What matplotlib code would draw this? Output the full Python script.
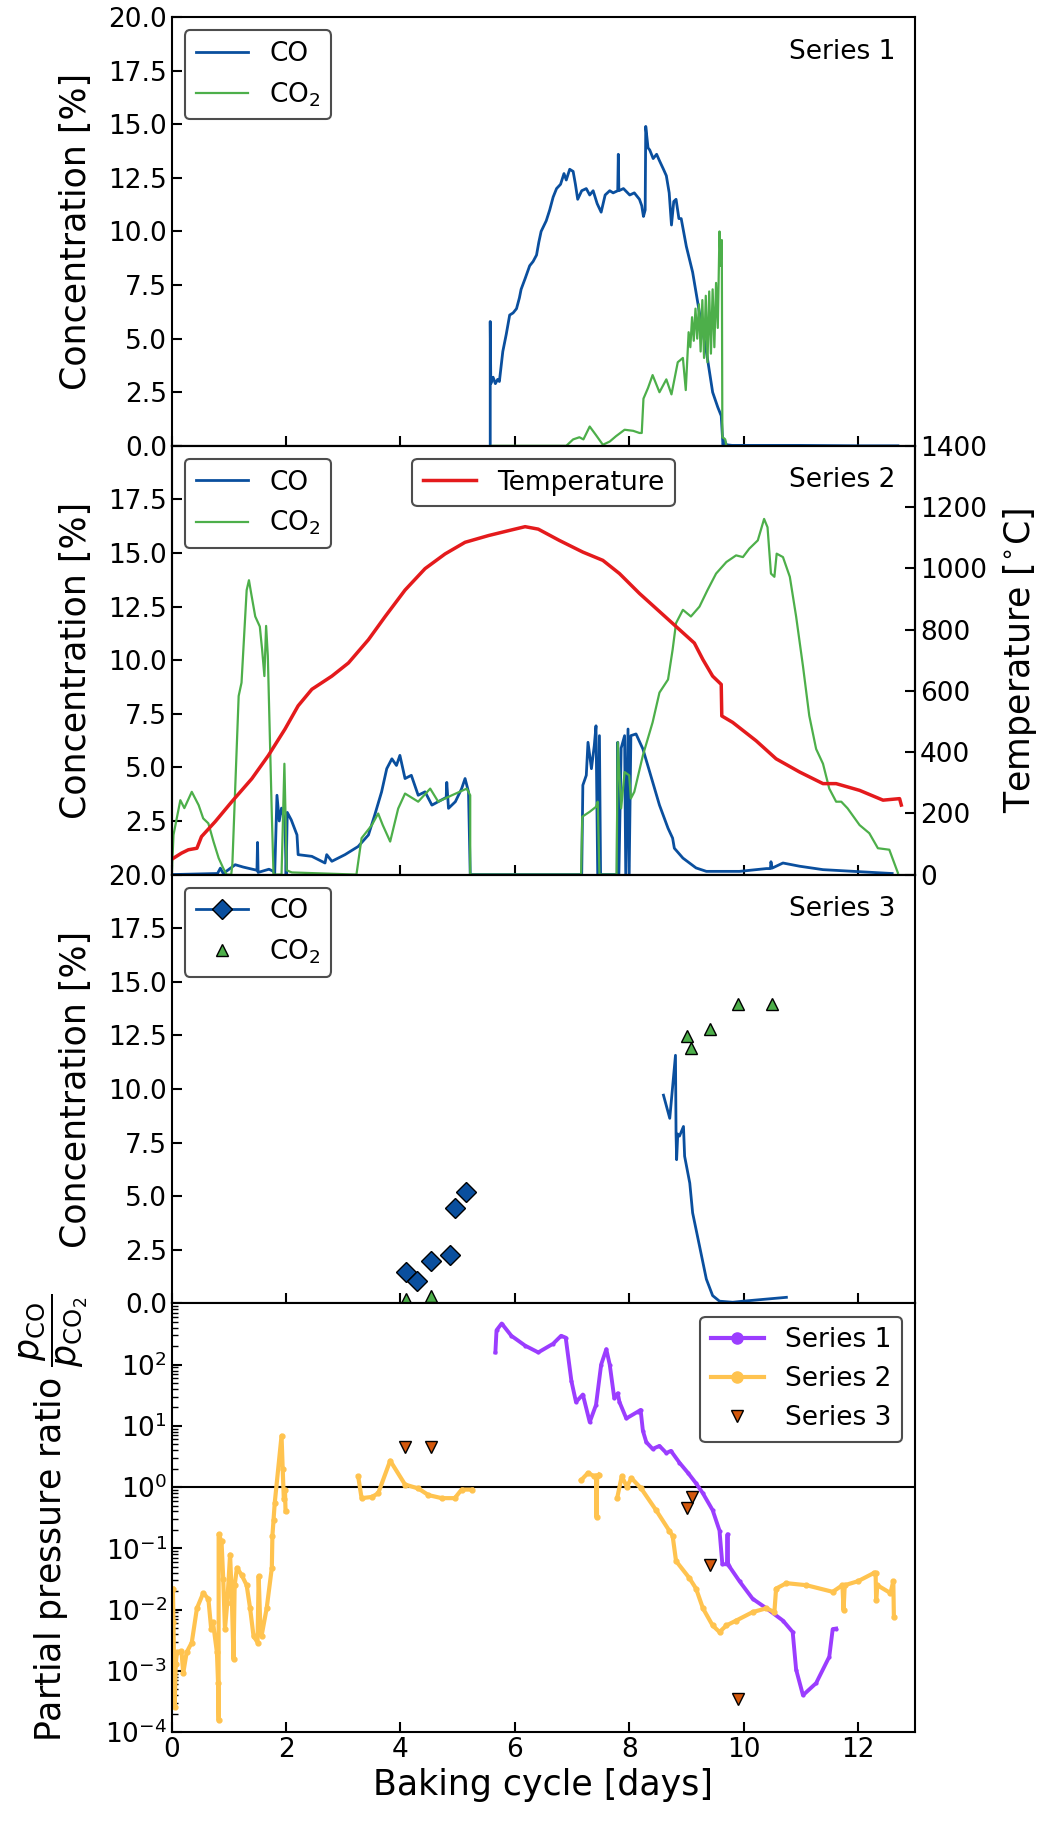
import matplotlib
matplotlib.use("Agg")
import matplotlib.pyplot as plt
import numpy as np
from matplotlib.lines import Line2D

# ---- data ----
days_ticks = [0, 2, 4, 6, 8, 10, 12]

# Series 1 (top panel)
s1_co_day = [5.57, 5.57, 5.58, 5.62, 5.66, 5.70, 5.73, 5.79, 5.85, 5.91,
             5.97, 6.03, 6.08, 6.11, 6.18, 6.26, 6.32, 6.38, 6.42, 6.46,
             6.55, 6.61, 6.67, 6.73, 6.80, 6.86, 6.90, 6.96, 7.02, 7.06,
             7.10, 7.17, 7.25, 7.31, 7.37, 7.44, 7.51, 7.58, 7.66, 7.72,
             7.80, 7.81, 7.82, 7.90, 8.01, 8.09, 8.18, 8.22, 8.25, 8.28,
             8.29, 8.33, 8.36, 8.42, 8.48, 8.53, 8.60, 8.65, 8.70, 8.74,
             8.78, 8.82, 8.87, 8.91, 9.00, 9.11, 9.23, 9.35, 9.46, 9.55,
             9.61, 9.64, 9.67, 9.70, 9.80, 10.2, 11.0, 12.0, 12.7]
s1_co_val = [0.0, 5.8, 2.9, 3.2, 2.9, 3.1, 3.0, 4.4, 5.2, 6.1,
             6.2, 6.4, 6.9, 7.3, 7.8, 8.4, 8.6, 8.9, 9.5, 10.0,
             10.5, 11.0, 11.6, 12.0, 12.2, 12.7, 12.4, 12.9, 12.8, 12.2,
             11.5, 11.9, 12.0, 11.7, 11.9, 11.3, 10.9, 11.7, 11.9, 11.8,
             11.9, 13.6, 11.9, 12.0, 11.7, 11.8, 11.5, 11.2, 10.7, 11.0,
             14.9, 13.9, 13.8, 13.4, 13.6, 13.3, 12.9, 12.6, 11.8, 10.3,
             11.4, 11.5, 10.6, 10.6, 9.3, 8.1, 6.2, 4.4, 2.5, 1.8,
             1.4, 0.05, 0.25, 0.05, 0.02, 0.02, 0.02, 0.0, 0.0]
s1_co2_day = [5.60, 6.90, 7.02, 7.13, 7.20, 7.31, 7.42, 7.54, 7.66, 7.77,
              7.92, 8.07, 8.18, 8.22, 8.25, 8.33, 8.41, 8.53, 8.65, 8.74,
              8.85, 8.94, 8.99, 9.04, 9.07, 9.10, 9.13, 9.16, 9.19, 9.22,
              9.25, 9.28, 9.31, 9.34, 9.37, 9.40, 9.43, 9.46, 9.49, 9.52,
              9.55, 9.58, 9.60, 9.62, 9.63, 9.66, 9.68, 9.70]
s1_co2_val = [0.0, 0.0, 0.3, 0.4, 0.3, 0.9, 0.5, 0.05, 0.2, 0.45,
              0.75, 0.7, 0.6, 0.6, 2.2, 2.7, 3.3, 2.5, 3.1, 2.4,
              3.9, 4.1, 2.6, 5.3, 4.6, 6.0, 4.9, 6.4, 5.0, 6.6,
              4.4, 6.8, 4.1, 7.0, 3.9, 7.2, 4.3, 7.3, 4.6, 7.6,
              5.5, 10.0, 8.4, 9.6, 0.4, 0.35, 0.3, 0.0]

# Series 2 (second panel)
s2_co_day = [0.0, 0.80, 0.85, 0.90, 1.11, 1.25, 1.49, 1.50, 1.51, 1.70,
             1.78, 1.80, 1.84, 1.88, 1.92, 1.98, 2.00, 2.02, 2.09, 2.19,
             2.21, 2.45, 2.68, 2.71, 2.80, 3.03, 3.26, 3.44, 3.55, 3.67,
             3.76, 3.85, 3.93, 3.99, 4.08, 4.19, 4.31, 4.43, 4.55, 4.66,
             4.80, 4.81, 4.84, 4.96, 5.07, 5.13, 5.19, 5.22, 7.17, 7.19,
             7.25, 7.28, 7.34, 7.39, 7.42, 7.45, 7.48, 7.50, 7.79, 7.80,
             7.82, 7.86, 7.92, 7.94, 7.98, 8.00, 8.03, 8.12, 8.24, 8.36,
             8.53, 8.68, 8.76, 8.79, 8.94, 9.17, 9.35, 9.93, 10.40, 10.47,
             10.48, 10.50, 10.69, 10.98, 11.39, 12.26, 12.60]
s2_co_val = [0.0, 0.05, 0.3, 0.05, 0.46, 0.35, 0.2, 1.5, 0.1, 0.25,
             0.15, 0.0, 3.7, 2.5, 3.1, 2.5, 0.0, 2.9, 2.55, 1.85,
             0.93, 0.85, 0.54, 0.93, 0.62, 0.93, 1.31, 1.85, 2.78, 3.86,
             4.94, 5.4, 5.09, 5.56, 4.48, 4.63, 3.7, 3.86, 3.24, 3.4,
             3.6, 4.3, 3.09, 3.4, 4.01, 4.48, 3.86, 0.0, 0.0, 4.17,
             4.63, 6.17, 4.94, 6.02, 6.94, 0.0, 6.48, 0.0, 0.0, 6.17,
             0.0, 5.9, 6.48, 0.0, 6.79, 0.0, 6.48, 6.56, 5.86, 4.78,
             3.24, 2.16, 1.7, 1.23, 0.77, 0.31, 0.15, 0.15, 0.28, 0.28,
             0.6, 0.3, 0.54, 0.39, 0.23, 0.1, 0.05]
s2_co2_day = [0.0, 0.03, 0.15, 0.22, 0.35, 0.47, 0.55, 0.64, 0.73, 0.82,
              0.90, 0.96, 1.04, 1.06, 1.17, 1.22, 1.31, 1.35, 1.39, 1.46,
              1.54, 1.58, 1.62, 1.65, 1.68, 1.75, 1.78, 1.92, 1.97, 2.01,
              2.10, 3.23, 3.32, 3.50, 3.61, 3.69, 3.82, 3.96, 4.08, 4.31,
              4.52, 4.66, 4.90, 5.16, 5.22, 5.22, 7.16, 7.18, 7.31, 7.42,
              7.45, 7.48, 7.78, 7.80, 7.86, 7.92, 8.00, 8.03, 8.09, 8.24,
              8.41, 8.53, 8.68, 8.76, 8.82, 8.94, 9.08, 9.23, 9.37, 9.52,
              9.70, 9.87, 9.99, 10.10, 10.25, 10.36, 10.42, 10.48, 10.54, 10.58,
              10.69, 10.81, 10.92, 11.04, 11.15, 11.27, 11.39, 11.50, 11.62, 11.71,
              11.82, 12.03, 12.20, 12.35, 12.55, 12.70]
s2_co2_val = [0.0, 1.85, 3.47, 3.1, 3.86, 3.24, 2.62, 2.39, 1.54, 0.77,
              0.3, 0.0, 0.0, 0.5, 8.33, 8.95, 13.27, 13.73, 13.1, 12.04,
              11.57, 10.5, 9.26, 11.6, 10.2, 2.78, 0.0, 0.0, 5.17, 0.2,
              0.1, 0.0, 1.7, 2.31, 2.85, 2.31, 1.54, 3.08, 3.78, 3.4,
              4.01, 3.4, 3.7, 4.01, 3.7, 0.0, 0.0, 2.7, 2.93, 3.16,
              3.4, 0.0, 0.0, 6.17, 3.09, 4.78, 4.63, 3.55, 3.86, 5.56,
              7.1, 8.49, 9.1, 10.49, 11.73, 12.35, 12.04, 12.5, 13.27, 14.04,
              14.58, 14.89, 14.81, 15.2, 15.59, 16.59, 16.2, 14.04, 13.89, 14.97,
              14.81, 13.89, 12.04, 9.72, 7.41, 5.86, 5.17, 4.01, 3.4, 3.4,
              3.09, 2.31, 1.93, 1.23, 1.16, 0.08]
temp_day = [0.0, 0.17, 0.29, 0.44, 0.52, 0.76, 1.05, 1.40, 1.69, 1.98,
            2.21, 2.45, 2.80, 3.09, 3.44, 3.73, 4.08, 4.43, 4.78, 5.13,
            5.54, 5.89, 6.18, 6.41, 6.78, 7.19, 7.54, 7.83, 8.18, 8.53,
            8.82, 9.14, 9.29, 9.46, 9.61, 9.62, 9.81, 10.22, 10.57, 10.98,
            11.39, 11.62, 12.03, 12.44, 12.73, 12.76]
temp_val = [50, 70, 81, 86, 124, 173, 238, 313, 389, 475,
            551, 605, 648, 691, 767, 842, 929, 999, 1047, 1085,
            1107, 1123, 1136, 1128, 1091, 1053, 1026, 983, 918, 859,
            810, 756, 702, 648, 621, 518, 497, 437, 378, 335,
            297, 297, 275, 243, 248, 227]

# Series 3 (third panel)
s3_co_pt_day = [4.09, 4.29, 4.54, 4.87, 4.96, 5.14]
s3_co_pt_val = [1.44, 1.02, 1.98, 2.24, 4.45, 5.18]
s3_co2_pt_day = [4.09, 4.53, 9.01, 9.09, 9.41, 9.90, 10.50]
s3_co2_pt_val = [0.2, 0.36, 12.45, 11.91, 12.81, 13.97, 13.97]
s3_co_day = [8.60, 8.71, 8.81, 8.82, 8.83, 8.85, 8.88, 8.95, 8.97, 9.06,
             9.11, 9.23, 9.35, 9.46, 9.58, 9.81, 9.99, 10.75]
s3_co_val = [9.71, 8.63, 11.57, 7.9, 6.7, 7.9, 7.8, 8.25, 6.86, 5.61,
             4.22, 2.68, 1.13, 0.36, 0.1, 0.05, 0.1, 0.28]

# partial pressure ratio (bottom panel)
r1_day = [5.66, 5.68, 5.77, 5.94, 6.18, 6.41, 6.67, 6.81, 6.89, 6.99,
          7.07, 7.19, 7.31, 7.42, 7.51, 7.60, 7.66, 7.74, 7.80, 7.83,
          7.95, 8.15, 8.20, 8.24, 8.30, 8.41, 8.53, 8.65, 8.73, 8.88,
          9.03, 9.17, 9.29, 9.46, 9.58, 9.63, 9.71, 9.72, 9.73, 9.75,
          9.93, 10.16, 10.40, 10.69, 10.86, 10.92, 11.04, 11.27, 11.50, 11.56,
          11.62]
r1_val = [158, 363, 468, 295, 204, 158, 219, 295, 275, 53.7,
          24.5, 32.4, 11.5, 21.9, 100, 178, 100, 28.2, 33.9, 24.5,
          13.2, 17.0, 18.2, 8.3, 5.4, 4.2, 4.7, 3.6, 3.9, 2.5,
          1.7, 1.15, 0.79, 0.42, 0.195, 0.055, 0.055, 0.17, 0.055, 0.051,
          0.029, 0.015, 0.0105, 0.0066, 0.0043, 0.00105, 0.0004, 0.00063, 0.0017, 0.0048,
          0.0049]
r2_day = [0.02, 0.03, 0.05, 0.07, 0.09, 0.17, 0.20, 0.26, 0.35, 0.44,
          0.55, 0.64, 0.69, 0.72, 0.79, 0.81, 0.82, 0.82, 0.87, 0.90,
          0.93, 0.97, 1.02, 1.05, 1.08, 1.10, 1.14, 1.22, 1.31, 1.37,
          1.43, 1.50, 1.52, 1.55, 1.57, 1.66, 1.75, 1.76, 1.78, 1.80,
          1.92, 1.94, 1.96, 1.98, 1.99, 2.5,
          3.26, 3.32, 3.50, 3.61, 3.82, 4.08, 4.31, 4.49, 4.72, 4.95,
          5.07, 5.25, 6.0,
          7.16, 7.28, 7.39, 7.42, 7.43, 7.44, 7.47, 7.6,
          7.79, 7.87, 7.96, 8.04, 8.21, 8.47, 8.70, 8.76, 8.82, 9.05,
          9.17, 9.29, 9.46, 9.58, 9.70, 9.87, 10.16, 10.40, 10.54, 10.57,
          10.75, 11.10, 11.56, 11.73, 11.75, 11.77, 12.00, 12.29, 12.31, 12.32,
          12.34, 12.57, 12.62, 12.63]
r2_val = [0.022, 0.0063, 0.00026, 0.0013, 0.002, 0.0021, 0.00091, 0.002, 0.0029, 0.0105,
          0.0186, 0.015, 0.0048, 0.0063, 0.002, 0.00063, 0.000155, 0.17, 0.13, 0.032,
          0.0048, 0.0126, 0.079, 0.016, 0.00155, 0.025, 0.048, 0.037, 0.025, 0.0105,
          0.0037, 0.0029, 0.035, 0.005, 0.0037, 0.0105, 0.048, 0.16, 0.29, 0.54,
          6.9, 2.0, 0.63, 0.89, 0.40, np.nan,
          1.5, 0.66, 0.69, 0.79, 2.7, 1.1, 0.95, 0.74, 0.66, 0.66,
          0.91, 0.91, np.nan,
          1.3, 1.7, 1.5, 1.5, 0.32, 1.5, 1.6, np.nan,
          0.66, 1.5, 1.02, 1.4, 0.95, 0.42, 0.195, 0.16, 0.062, 0.033,
          0.022, 0.0105, 0.0055, 0.0043, 0.0055, 0.0066, 0.0091, 0.0105, 0.0091, 0.022,
          0.027, 0.025, 0.0195, 0.025, 0.0098, 0.025, 0.029, 0.04, 0.04, 0.0145,
          0.025, 0.0186, 0.029, 0.0076]
r3_day = [4.08, 4.53, 9.01, 9.10, 9.41, 9.90]
r3_val = [4.5, 4.5, 0.45, 0.68, 0.054, 0.00035]

# ---- style ----
c_co = '#0a4f9e'
c_co2 = '#4daf4a'
c_temp = '#e41a1c'
c_s1 = '#9b3dff'
c_s2 = '#ffc34f'
c_s3 = '#d4580c'

plt.rcParams['font.family'] = 'DejaVu Sans'
plt.rcParams['mathtext.fontset'] = 'dejavusans'
plt.rcParams['font.size'] = 19
plt.rcParams['axes.linewidth'] = 1.5
plt.rcParams['xtick.direction'] = 'in'
plt.rcParams['ytick.direction'] = 'in'
plt.rcParams['xtick.major.size'] = 7
plt.rcParams['ytick.major.size'] = 7
plt.rcParams['xtick.major.width'] = 1.5
plt.rcParams['ytick.major.width'] = 1.5
plt.rcParams['ytick.minor.size'] = 4
plt.rcParams['ytick.minor.width'] = 1.0
plt.rcParams['legend.edgecolor'] = '0.3'
plt.rcParams['legend.framealpha'] = 1

fig, (ax1, ax2, ax3, ax4) = plt.subplots(4, 1, figsize=(10.41, 18.36), dpi=100, sharex=True)
plt.subplots_adjust(left=0.165, right=0.879, top=0.9907, bottom=0.0566, hspace=0)

conc_ticks = [0, 2.5, 5, 7.5, 10, 12.5, 15, 17.5, 20]


def frame(leg):
    leg.get_frame().set_linewidth(1.5)


# panel 1
ax1.plot(s1_co_day, s1_co_val, color=c_co, lw=2, label='CO')
ax1.plot(s1_co2_day, s1_co2_val, color=c_co2, lw=1.6, label='CO$_2$')
ax1.set_ylim(0, 20)
ax1.set_yticks(conc_ticks)
ax1.set_ylabel('Concentration [%]', fontsize=25, labelpad=11)
frame(ax1.legend(loc='upper left'))
ax1.text(0.973, 0.95, 'Series 1', transform=ax1.transAxes, ha='right', va='top')

# panel 2
ax2.plot(s2_co_day, s2_co_val, color=c_co, lw=2, label='CO')
ax2.plot(s2_co2_day, s2_co2_val, color=c_co2, lw=1.6, label='CO$_2$')
ax2.set_ylim(0, 20)
ax2.set_yticks(conc_ticks)
ax2.set_yticklabels([''] + ['%.1f' % v for v in conc_ticks[1:-1]] + [''])
ax2.set_ylabel('Concentration [%]', fontsize=25, labelpad=11)
frame(ax2.legend(loc='upper left'))
ax2t = ax2.twinx()
ax2t.plot(temp_day, temp_val, color=c_temp, lw=2.5, label='Temperature')
ax2t.set_ylim(0, 1400)
ax2t.set_yticks(range(0, 1401, 200))
ax2t.set_ylabel('Temperature [$^{\\circ}$C]', fontsize=25, labelpad=10)
frame(ax2t.legend(loc='upper center'))
ax2.text(0.973, 0.95, 'Series 2', transform=ax2.transAxes, ha='right', va='top')

# panel 3
ax3.plot(s3_co_day, s3_co_val, color=c_co, lw=2)
ax3.plot(s3_co_pt_day, s3_co_pt_val, ls='none', marker='D', ms=10, color=c_co, mec='k', mew=1)
ax3.plot(s3_co2_pt_day, s3_co2_pt_val, ls='none', marker='^', ms=9, color=c_co2, mec='k', mew=1)
ax3.set_ylim(0, 20)
ax3.set_yticks(conc_ticks)
ax3.set_ylabel('Concentration [%]', fontsize=25, labelpad=11)
h3 = [Line2D([], [], color=c_co, lw=2, marker='D', ms=10, mec='k'),
      Line2D([], [], ls='none', color=c_co2, marker='^', ms=9, mec='k')]
frame(ax3.legend(h3, ['CO', 'CO$_2$'], loc='upper left'))
ax3.text(0.973, 0.95, 'Series 3', transform=ax3.transAxes, ha='right', va='top')

# panel 4
ax4.axhline(1, color='k', lw=1.5)
ax4.plot(r1_day, r1_val, color=c_s1, lw=2.8, marker='o', ms=2)
ax4.plot(r2_day, r2_val, color=c_s2, lw=3, marker='o', ms=3.5)
ax4.plot(r3_day, r3_val, ls='none', marker='v', ms=9, color=c_s3, mec='k', mew=1)
ax4.set_yscale('log')
ax4.set_ylim(1e-4, 1e3)
ax4.set_yticks([1e-4, 1e-3, 1e-2, 1e-1, 1e0, 1e1, 1e2])
ax4.set_ylabel('Partial pressure ratio $\\dfrac{p_{\\rm CO}}{p_{\\rm CO_2}}$', fontsize=25, labelpad=11)
h4 = [Line2D([], [], color=c_s1, lw=3, marker='o', ms=8),
      Line2D([], [], color=c_s2, lw=3, marker='o', ms=8),
      Line2D([], [], ls='none', color=c_s3, marker='v', ms=9, mec='k')]
frame(ax4.legend(h4, ['Series 1', 'Series 2', 'Series 3'], loc='upper right'))

ax4.set_xlim(0, 13)
ax4.set_xticks(days_ticks)
ax4.set_xlabel('Baking cycle [days]', fontsize=25)

fig.savefig('out.png', dpi=100)
